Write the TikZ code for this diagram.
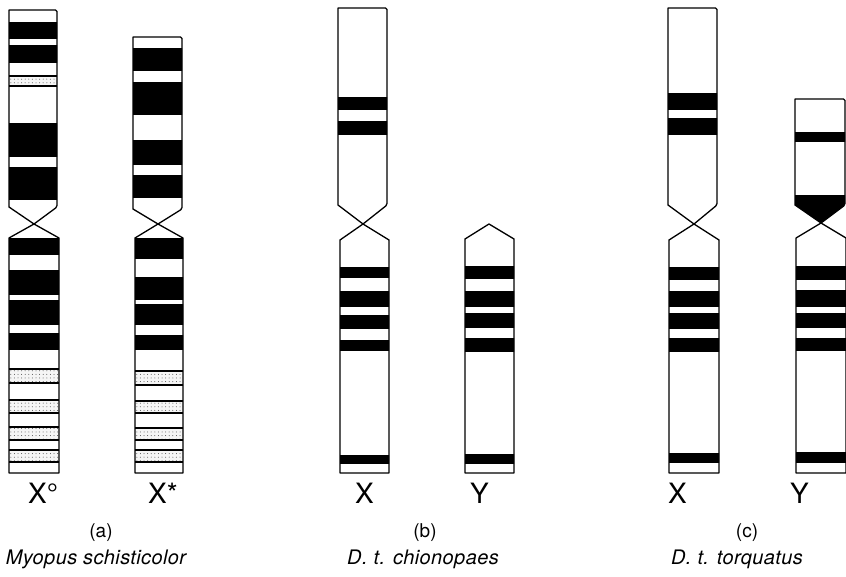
\documentclass[tikz,border=0pt]{standalone}
\usepackage{fontspec}
\setmainfont{TeX Gyre Heros}
\usetikzlibrary{patterns.meta}

\tikzset{
  outline/.style={line width=1.3pt, line join=round},
  band/.style={fill=black},
  stipplebase/.style={fill=black!4},
  stippledots/.style={pattern={Dots[radius=0.5pt, distance=3.6pt]}, pattern color=black!70},
  rule/.style={line width=1.1pt},
  chrlabel/.style={font=\fontsize{28}{30}\selectfont, anchor=base west, inner sep=0pt},
  panel/.style={font=\fontsize{19}{22}\selectfont, anchor=base, inner sep=0pt},
  species/.style={font=\fontsize{20}{24}\selectfont\itshape\addfontfeature{LetterSpace=2}, anchor=base, inner sep=0pt},
}

% upper arm: left, right, top, shoulder, centromere x, centromere y, black bands, stippled bands
\newcommand\chrUpper[8]{%
  \begin{scope}
    \clip[rounded corners=1.5pt] (#1,#3) -- (#2,#3) -- (#2,#4) [sharp corners] -- (#5,#6) -- (#1,#4) -- cycle;
    \foreach \ya/\yb in {#7} \fill[band] (#1-5,\ya) rectangle (#2+5,\yb);
    \foreach \ya/\yb in {#8} {
      \fill[stipplebase] (#1-5,\ya) rectangle (#2+5,\yb);
      \fill[stippledots] (#1-5,\ya) rectangle (#2+5,\yb);
      \draw[rule] (#1,\ya) -- (#2,\ya) (#1,\yb) -- (#2,\yb);
    }
  \end{scope}
  \draw[outline, rounded corners=1.5pt] (#1,#3) -- (#2,#3) -- (#2,#4) [sharp corners] -- (#5,#6) -- (#1,#4) -- cycle;
}

% lower arm: left, right, shoulder, bottom, centromere x, centromere y, black bands, stippled bands
\newcommand\chrLower[8]{%
  \begin{scope}
    \clip (#5,#6) -- (#2,#3) -- (#2,#4) -- (#1,#4) -- (#1,#3) -- cycle;
    \foreach \ya/\yb in {#7} \fill[band] (#1-5,\ya) rectangle (#2+5,\yb);
    \foreach \ya/\yb in {#8} {
      \fill[stipplebase] (#1-5,\ya) rectangle (#2+5,\yb);
      \fill[stippledots] (#1-5,\ya) rectangle (#2+5,\yb);
      \draw[rule] (#1,\ya) -- (#2,\ya) (#1,\yb) -- (#2,\yb);
    }
  \end{scope}
  \draw[outline] (#5,#6) -- (#2,#3) -- (#2,#4) -- (#1,#4) -- (#1,#3) -- cycle;
}

\begin{document}
\begin{tikzpicture}[x=1pt, y=-1pt]
\useasboundingbox (0,0) rectangle (846,576);

% (a) Myopus schisticolor: X° and X*
\chrUpper{9}{57}{10}{207}{34}{224}{22/39,45/63,123/157,167/200}{76/86}
\chrLower{9}{59}{238}{473}{34}{224}{238/255,270/295,300/325,333/350}{369/383,400/413,427/440,450/462}

\chrUpper{133}{182}{37}{209}{158}{224}{48/71,82/115,140/165,175/198}{}
\chrLower{135}{183}{238}{473}{158}{224}{238/259,277/300,304/325,335/350}{371/385,401/413,428/440,450/462}

% (b) D. t. chionopaes: X and Y
\chrUpper{338}{387}{8}{205}{363}{224}{97/110,121/135}{}
\chrLower{340}{389}{240}{473}{363}{224}{267/278,291/307,315/329,340/351,455/464}{}

\chrLower{465}{514}{239}{473}{489}{224}{266/279,291/307,313/328,338/352,454/464}{}

% (c) D. t. torquatus: X and Y
\chrUpper{668}{717}{8}{205}{694}{224}{93/110,118/135}{}
\chrLower{669}{719}{240}{473}{694}{224}{267/280,291/307,313/329,338/352,453/463}{}

\chrUpper{795}{845}{99}{205}{821}{223}{132/142,195/230}{}
\chrLower{796}{846}{238}{473}{821}{223}{266/280,290/307,313/328,338/351,452/463}{}

% chromosome labels
\node[chrlabel] (la1) at (28,503) {X°};
\node[chrlabel] (la2) at (148,503) {X*};
\node[chrlabel] (lb1) at (355,503) {X};
\node[chrlabel] (lb2) at (470,503) {Y};
\node[chrlabel] (lc1) at (668,503) {X};
\node[chrlabel] (lc2) at (790,503) {Y};

% panel letters
\node[panel] (pa) at (101,537) {(a)};
\node[panel] (pb) at (425,537) {(b)};
\node[panel] (pc) at (747,537) {(c)};

% species names
\node[species] (sa) at (96,564) {Myopus schisticolor};
\node[species] (sb) at (423,564) {D. t. chionopaes};
\node[species] (sc) at (737,564) {D. t. torquatus};
\end{tikzpicture}
\end{document}
